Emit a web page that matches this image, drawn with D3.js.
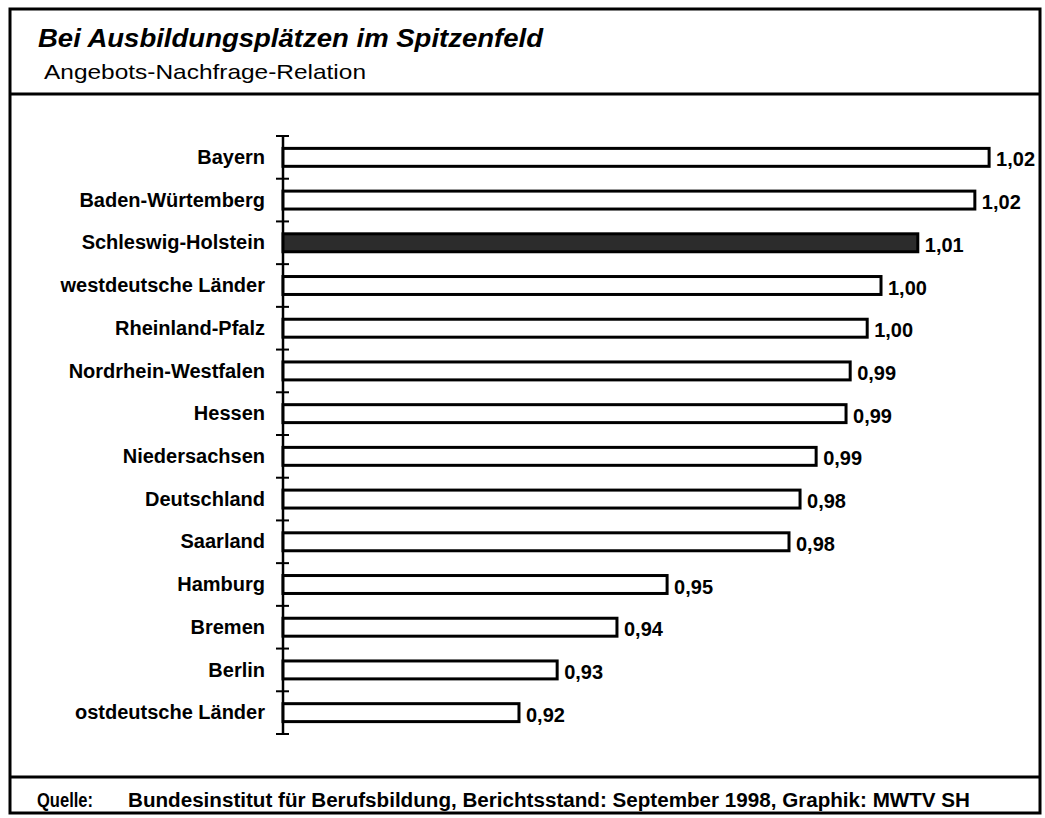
<!DOCTYPE html>
<html>
<head>
<meta charset="utf-8">
<script src="https://cdn.jsdelivr.net/npm/d3@7"></script>
<style>
  body { margin: 0; background: #fff; }
  text { font-family: "Liberation Sans", Arial, sans-serif; fill: #000; }
</style>
</head>
<body>
<script>
// Angebots-Nachfrage-Relation, Sept. 1998
var regions = ["Bayern", "Baden-Würtemberg", "Schleswig-Holstein", "westdeutsche Länder",
  "Rheinland-Pfalz", "Nordrhein-Westfalen", "Hessen", "Niedersachsen", "Deutschland",
  "Saarland", "Hamburg", "Bremen", "Berlin", "ostdeutsche Länder"];
var values = [1.0235, 1.0204, 1.0080, 1.0000, 0.997, 0.9933, 0.9924, 0.9859, 0.9824,
  0.980, 0.9535, 0.9426, 0.9296, 0.9213];
var valueLabels = ["1,02", "1,02", "1,01", "1,00", "1,00", "0,99", "0,99", "0,99", "0,98",
  "0,98", "0,95", "0,94", "0,93", "0,92"];
var highlight = "Schleswig-Holstein";

var width = 1045,
  height = 818;

var svg = d3.select("body").append("svg")
  .attr("width", width)
  .attr("height", height);

// frame
svg.append("rect")
  .attr("x", 10).attr("y", 9)
  .attr("width", 1030).attr("height", 804)
  .style("fill", "none").style("stroke", "#000").style("stroke-width", 3);
svg.append("line")
  .attr("x1", 10).attr("x2", 1040).attr("y1", 94).attr("y2", 94)
  .style("stroke", "#000").style("stroke-width", 3);
svg.append("line")
  .attr("x1", 10).attr("x2", 1040).attr("y1", 777).attr("y2", 777)
  .style("stroke", "#000").style("stroke-width", 3);

// titles
svg.append("text")
  .attr("x", 38).attr("y", 47)
  .style("font-size", "26px").style("font-weight", "bold").style("font-style", "italic")
  .attr("textLength", 505).attr("lengthAdjust", "spacingAndGlyphs")
  .text("Bei Ausbildungsplätzen im Spitzenfeld");
svg.append("text")
  .attr("x", 44).attr("y", 79)
  .style("font-size", "21px")
  .attr("textLength", 322).attr("lengthAdjust", "spacingAndGlyphs")
  .text("Angebots-Nachfrage-Relation");

// scales
var x = d3.scaleLinear()
  .domain([0.87, 1.03])
  .range([283, 283 + 0.16 * 4600]);

var y = d3.scaleBand()
  .domain(regions)
  .range([136, 734])
  .paddingInner(0.58)
  .paddingOuter(0.29);

// axis line with ticks between the bars
var axis = svg.append("g");
axis.append("line")
  .attr("x1", x(0.87)).attr("x2", x(0.87))
  .attr("y1", 136).attr("y2", 734)
  .style("stroke", "#000").style("stroke-width", 2.5);
var tickYs = d3.range(regions.length + 1).map(function(i) { return 136 + i * y.step(); });
axis.selectAll(".tick")
  .data(tickYs)
  .enter()
  .append("line")
  .attr("class", "tick")
  .attr("x1", x(0.87) - 7).attr("x2", x(0.87) + 6)
  .attr("y1", function(d) { return d; })
  .attr("y2", function(d) { return d; })
  .style("stroke", "#000").style("stroke-width", 2);

// bars
var rows = svg.selectAll(".row")
  .data(regions)
  .enter()
  .append("g")
  .attr("class", "row");

rows.append("rect")
  .attr("x", x(0.87))
  .attr("y", function(d) { return y(d); })
  .attr("width", function(d, i) { return x(values[i]) - x(0.87); })
  .attr("height", y.bandwidth())
  .style("fill", function(d) { return d === highlight ? "#2c2c2c" : "#fff"; })
  .style("stroke", "#000")
  .style("stroke-width", 3);

rows.append("text")
  .attr("x", 265)
  .attr("y", function(d) { return y(d) + y.bandwidth() / 2; })
  .attr("dy", ".33em")
  .attr("text-anchor", "end")
  .style("font-size", "20px").style("font-weight", "bold")
  .text(function(d) { return d; });

rows.append("text")
  .attr("x", function(d, i) { return x(values[i]) + 7; })
  .attr("y", function(d) { return y(d) + y.bandwidth() / 2; })
  .attr("dy", ".45em")
  .style("font-size", "20px").style("font-weight", "bold")
  .text(function(d, i) { return valueLabels[i]; });

// source line
svg.append("text")
  .attr("x", 37).attr("y", 807)
  .style("font-size", "20px").style("font-weight", "bold")
  .attr("textLength", 56).attr("lengthAdjust", "spacingAndGlyphs")
  .text("Quelle:");
svg.append("text")
  .attr("x", 128).attr("y", 807)
  .style("font-size", "20px").style("font-weight", "bold")
  .attr("textLength", 842).attr("lengthAdjust", "spacingAndGlyphs")
  .text("Bundesinstitut für Berufsbildung, Berichtsstand: September 1998, Graphik: MWTV SH");
</script>
</body>
</html>
